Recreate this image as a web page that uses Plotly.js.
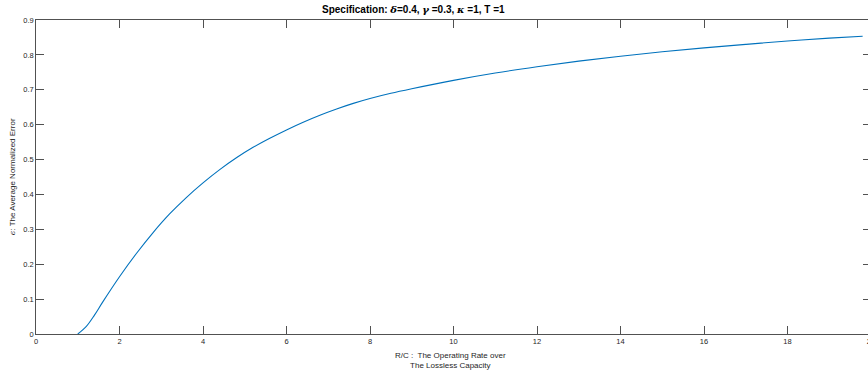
<!DOCTYPE html>
<html>
<head>
<meta charset="utf-8">
<script src="https://cdn.plot.ly/plotly-3.0.1.min.js"></script>
<style>
html,body{margin:0;padding:0;overflow:hidden;background:#fff;}
#chart{width:880px;height:374px;}
</style>
</head>
<body>
<div id="chart"></div>
<script>
// R/C : operating rate over lossless capacity
const rateRatio = [1, 1.2, 1.4, 1.6, 2, 2.4, 2.8, 3.2, 3.6, 4, 4.4, 4.8, 5.2, 5.6, 6, 6.4, 6.8, 7.2, 7.6, 8, 8.5, 9, 10, 11, 12, 13, 14, 15, 16, 17, 18, 19, 19.8];
// average normalized error
const avgError = [0, 0.021, 0.054, 0.092, 0.164, 0.230, 0.290, 0.344, 0.391, 0.433, 0.471, 0.505, 0.535, 0.561, 0.585, 0.607, 0.627, 0.645, 0.661, 0.675, 0.690, 0.703, 0.727, 0.748, 0.766, 0.782, 0.796, 0.809, 0.820, 0.830, 0.840, 0.848, 0.8535];
const xTicks = [0, 2, 4, 6, 8, 10, 12, 14, 16, 18, 20];
const yTicks = [0, 0.1, 0.2, 0.3, 0.4, 0.5, 0.6, 0.7, 0.8, 0.9];

const axisColor = '#262626';
const serif = "<span style=\"font-family:'DejaVu Serif'\">";

const trace = {
  x: rateRatio, y: avgError, type: 'scatter', mode: 'lines',
  line: {color: '#0072BD', width: 1.1, shape: 'spline', smoothing: 1},
  hoverinfo: 'none'
};

const axisCommon = {
  showgrid: false, zeroline: false, showline: true, linecolor: axisColor, linewidth: 0.8,
  mirror: 'ticks', ticks: 'inside', ticklen: 8, tickwidth: 0.8, tickcolor: axisColor,
  tickfont: {family: 'Liberation Sans, Arial, sans-serif', size: 7.5, color: axisColor}
};

const layout = {
  width: 880, height: 374,
  margin: {l: 36, r: 8.5, t: 19.5, b: 40},
  paper_bgcolor: '#fff', plot_bgcolor: '#fff',
  showlegend: false,
  xaxis: Object.assign({}, axisCommon, {range: [0, 20], tickvals: xTicks, ticktext: xTicks.map(String)}),
  yaxis: Object.assign({}, axisCommon, {range: [0, 0.9], tickvals: yTicks, ticktext: yTicks.map(v => v === 0 ? '0' : String(v))}),
  annotations: [
    {
      text: '<b>Specification: ' + serif + '<i>δ</i></span>=0.4, ' + serif + '<i>γ</i></span> =0.3, ' + serif + '<i>κ</i></span> =1, T =1</b>',
      xref: 'paper', yref: 'paper', x: (414 - 36) / 835.5, y: (334 - 9) / 314.5,
      xanchor: 'center', yanchor: 'middle', showarrow: false,
      font: {family: 'Liberation Sans, Arial, sans-serif', size: 10, color: '#000'}
    },
    {
      text: 'R/C :  The Operating Rate over<br>The Lossless Capacity',
      xref: 'paper', yref: 'paper', x: (451 - 36) / 835.5, y: (334 - 360.5) / 314.5,
      xanchor: 'center', yanchor: 'middle', showarrow: false, align: 'center',
      font: {family: 'Liberation Sans, Arial, sans-serif', size: 8, color: axisColor}
    },
    {
      text: serif + '<i>ϵ</i></span>: The Average Normalized Error',
      xref: 'paper', yref: 'paper', x: (12 - 36) / 835.5, y: (334 - 177) / 314.5,
      xanchor: 'center', yanchor: 'middle', textangle: -90, showarrow: false,
      font: {family: 'Liberation Sans, Arial, sans-serif', size: 8, color: axisColor}
    }
  ]
};

Plotly.newPlot('chart', [trace], layout, {displayModeBar: false, staticPlot: true});
</script>
</body>
</html>
